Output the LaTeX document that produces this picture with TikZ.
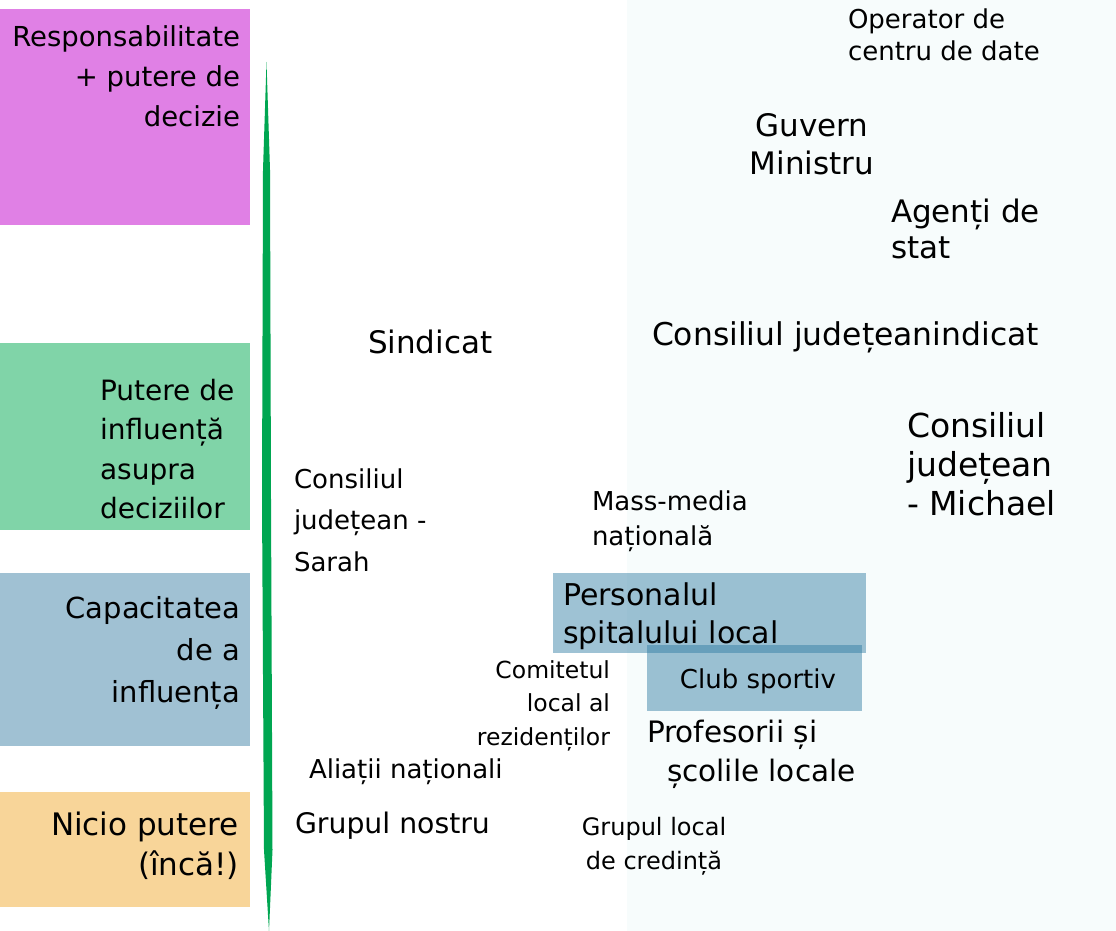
\documentclass[tikz,border=0pt]{standalone}
\usepackage{fontspec}
\setmainfont{DejaVu Sans}
\definecolor{magbox}{RGB}{224,128,229}
\definecolor{grnbox}{RGB}{128,212,168}
\definecolor{blubox}{RGB}{160,193,211}
\definecolor{orgbox}{RGB}{248,213,153}
\definecolor{linegreen}{RGB}{0,166,81}
\definecolor{rightbg}{RGB}{247,252,252}
\definecolor{overbox}{RGB}{42,120,160}
\newcommand{\fl}{\rule{0pt}{1em}}
\tikzset{
  lbl/.style={inner sep=0pt, outer sep=0pt, text=black},
  fs/.style 2 args={font=\fontsize{#1}{#2}\selectfont},
  overlay box/.style={fill=overbox, fill opacity=0.45, draw=none}
}
\begin{document}
\begin{tikzpicture}[x=1pt,y=-1pt]
\useasboundingbox (0,0) rectangle (1116,931);
\fill[white] (0,0) rectangle (1116,931);
\fill[rightbg] (627,0) rectangle (1116,931);
% category boxes
\fill[magbox] (0,9) rectangle (250,225);
\fill[grnbox] (0,343) rectangle (250,530);
\fill[blubox] (0,573) rectangle (250,746);
\fill[orgbox] (0,792) rectangle (250,907);
% green axis stroke
\fill[linegreen] (266.5,62) -- (263,170) -- (262,500) -- (264,850) -- (269,931)
  -- (272.5,850) -- (271,500) -- (270,170) -- cycle;
% highlighted boxes
\fill[overlay box] (553,573) rectangle (866,653);
\fill[overlay box] (647,645) rectangle (862,711);
% category labels
\node[lbl, fs={27.5}{40}, align=right, anchor=north east] (resp) at (240,19.5)
  {\fl Responsabilitate\\+ putere de\\decizie};
\node[lbl, fs={28}{39.5}, align=left, anchor=north west] (infl) at (100,372)
  {\fl Putere de\\influență\\asupra\\deciziilor};
\node[lbl, fs={29}{42}, align=right, anchor=north east] (cap) at (240,589)
  {\fl Capacitatea\\de a\\influența};
\node[lbl, fs={31}{40}, align=right, anchor=north east] (nicio) at (239,804)
  {\fl Nicio putere\\(încă!)};
% stakeholders
\node[lbl, fs={26}{32}, align=left, anchor=north west] (oper) at (848,3)
  {\fl Operator de\\centru de date};
\node[lbl, fs={31}{38}, align=center, anchor=north] (guv) at (812,106)
  {\fl Guvern\\Ministru};
\node[lbl, fs={31}{36}, align=left, anchor=north west] (agenti) at (891,191)
  {\fl Agenți de\\stat};
\node[lbl, fs={31}{36}, anchor=north west] (sind) at (368,322)
  {\fl Sindicat};
\node[lbl, fs={31.4}{36}, anchor=north west] (cjind) at (652,313.6)
  {\fl Consiliul județeanindicat};
\node[lbl, fs={33}{39}, align=left, anchor=north west] (michael) at (907,404)
  {\fl Consiliul\\județean\\- Michael};
\node[lbl, fs={26}{41.5}, align=left, anchor=north west] (sarah) at (294,462)
  {\fl Consiliul\\județean -\\Sarah};
\node[lbl, fs={26}{35}, align=left, anchor=north west] (media) at (592,484)
  {\fl Mass-media\\națională};
\node[lbl, fs={30}{38}, align=left, anchor=north west] (spital) at (563,575)
  {\fl Personalul\\spitalului local};
\node[lbl, fs={26}{32}, anchor=north] (club) at (758,662)
  {\fl Club sportiv};
\node[lbl, fs={23.5}{33.5}, align=right, anchor=north east] (comitet) at (610,654.5)
  {\fl Comitetul\\local al\\rezidenților};
\node[lbl, fs={29.5}{39}, align=left, anchor=north west] (prof) at (647,712.5)
  {\fl Profesorii și\\\hspace*{20pt}școlile locale};
\node[lbl, fs={26}{32}, anchor=north west] (aliati) at (309,752)
  {\fl Aliații naționali};
\node[lbl, fs={28.3}{32}, anchor=north west] (nostru) at (295,805)
  {\fl Grupul nostru};
\node[lbl, fs={24}{34}, align=center, anchor=north] (credinta) at (654,811)
  {\fl Grupul local\\de credință};
\end{tikzpicture}
\end{document}
